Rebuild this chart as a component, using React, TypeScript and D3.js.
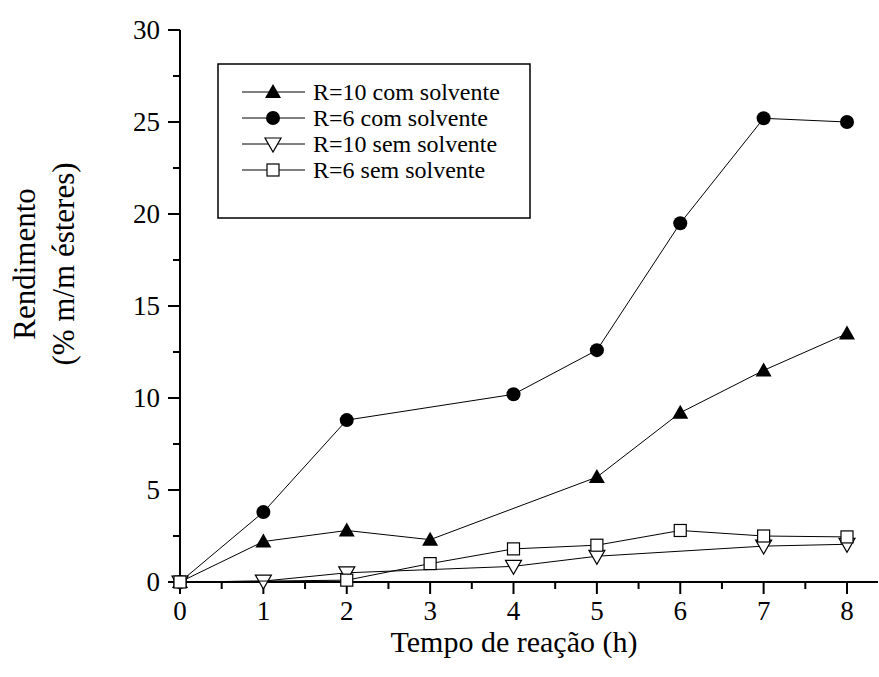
import * as d3 from "d3";

const width = 879;
const height = 677;
const margin = { top: 30, right: 2, bottom: 95, left: 180 };

// x positions (h) and yields per series; null = no point
const hours = [0, 1, 2, 3, 4, 5, 6, 7, 8];
const r10Com = [0, 2.2, 2.8, 2.3, null, 5.7, 9.2, 11.5, 13.5];
const r6Com = [0, 3.8, 8.8, null, 10.2, 12.6, 19.5, 25.2, 25.0];
const r10Sem = [0, 0.05, 0.5, null, 0.85, 1.4, null, 1.95, 2.05];
const r6Sem = [0, null, 0.1, 1.0, 1.8, 2.0, 2.8, 2.5, 2.45];

const seriesNames = [
  "R=10 com solvente",
  "R=6 com solvente",
  "R=10 sem solvente",
  "R=6 sem solvente",
];
const seriesValues = [r10Com, r6Com, r10Sem, r6Sem];
const markers = ["triUp", "circle", "triDown", "square"];

const yTicks = [0, 5, 10, 15, 20, 25, 30];
const yMinor = [2.5, 7.5, 12.5, 17.5, 22.5, 27.5];
const xTicks = [0, 1, 2, 3, 4, 5, 6, 7, 8];
const xMinor = [0.5, 1.5, 2.5, 3.5, 4.5, 5.5, 6.5, 7.5, 8.5];

const font = "Tinos, 'Times New Roman', Times, 'Liberation Serif', 'DejaVu Serif', serif";

function Marker({ kind, x, y }: { kind: string; x: number; y: number }) {
  if (kind === "circle") return <circle cx={x} cy={y} r={7} fill="#000" />;
  if (kind === "square")
    return <rect x={x - 6} y={y - 6} width={12} height={12} fill="#fff" stroke="#000" strokeWidth={1.2} />;
  if (kind === "triUp")
    return <path d={`M${x},${y - 8}L${x + 8},${y + 6}L${x - 8},${y + 6}Z`} fill="#000" />;
  return (
    <path d={`M${x - 8},${y - 6}L${x + 8},${y - 6}L${x},${y + 8}Z`} fill="#fff" stroke="#000" strokeWidth={1.2} />
  );
}

export default function App() {
  const x = d3.scaleLinear().domain([0, 8]).range([margin.left, 847]);
  const y = d3.scaleLinear().domain([0, 30]).range([582, margin.top]);
  const line = d3
    .line<[number, number]>()
    .x((d) => x(d[0]))
    .y((d) => y(d[1]));

  const series = seriesValues.map((vals) =>
    hours
      .map((h, i) => [h, vals[i]] as [number, number | null])
      .filter((d) => d[1] !== null) as [number, number][]
  );

  const legX = 218;
  const legY = 64;

  return (
    <svg width={width} height={height} style={{ position: "absolute", left: 0, top: 0 }}>
      <rect width={width} height={height} fill="#fff" />
      <g style={{ fontFamily: font }} fill="#000">
        {/* axes */}
        <line x1={x(0)} x2={878} y1={y(0)} y2={y(0)} stroke="#000" strokeWidth={2} />
        <line x1={x(0)} x2={x(0)} y1={y(0)} y2={y(30)} stroke="#000" strokeWidth={2} />
        {yTicks.map((t) => (
          <g key={t}>
            <line x1={x(0) - 12} x2={x(0)} y1={y(t)} y2={y(t)} stroke="#000" strokeWidth={2} />
            <text x={x(0) - 20} y={y(t) + 9} textAnchor="end" fontSize={27}>
              {t}
            </text>
          </g>
        ))}
        {yMinor.map((t) => (
          <line key={t} x1={x(0) - 7} x2={x(0)} y1={y(t)} y2={y(t)} stroke="#000" strokeWidth={2} />
        ))}
        {xTicks.map((t) => (
          <g key={t}>
            <line x1={x(t)} x2={x(t)} y1={y(0)} y2={y(0) + 12} stroke="#000" strokeWidth={2} />
            <text x={x(t)} y={y(0) + 38} textAnchor="middle" fontSize={27}>
              {t}
            </text>
          </g>
        ))}
        {xMinor.map((t) => (
          <line key={t} x1={x(t)} x2={x(t)} y1={y(0)} y2={y(0) + 7} stroke="#000" strokeWidth={2} />
        ))}

        {/* axis titles */}
        <text x={514} y={652} textAnchor="middle" fontSize={30}>
          Tempo de reação (h)
        </text>
        <g transform="translate(35,264) rotate(-90)">
          <text x={0} y={0} textAnchor="middle" fontSize={31}>
            Rendimento
          </text>
          <text x={0} y={39} textAnchor="middle" fontSize={31}>
            (% m/m ésteres)
          </text>
        </g>

        {/* series */}
        {series.map((s, i) => (
          <g key={i}>
            <path d={line(s) ?? ""} fill="none" stroke="#000" strokeWidth={1} />
            {s.map((d, j) => (
              <Marker key={j} kind={markers[i]} x={x(d[0])} y={y(d[1])} />
            ))}
          </g>
        ))}

        {/* legend */}
        <rect x={legX} y={legY} width={312} height={154} fill="#fff" stroke="#000" strokeWidth={1.5} />
        {seriesNames.map((name, i) => {
          const ry = 92 + i * 26;
          return (
            <g key={name}>
              <line x1={242} x2={305} y1={ry} y2={ry} stroke="#000" strokeWidth={1} />
              <Marker kind={markers[i]} x={273} y={ry} />
              <text x={313} y={ry + 8} fontSize={24}>
                {name}
              </text>
            </g>
          );
        })}
      </g>
    </svg>
  );
}
